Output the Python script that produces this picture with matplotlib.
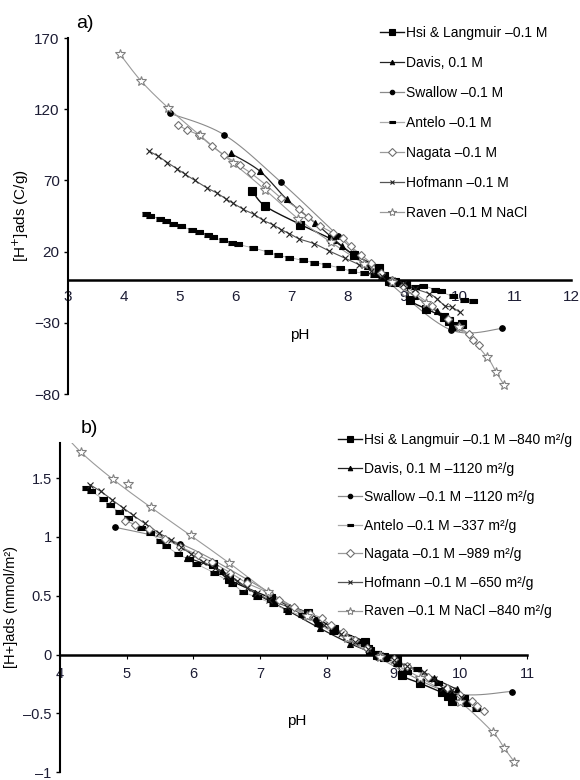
import numpy as np
import matplotlib
matplotlib.use("Agg")
import matplotlib.pyplot as plt
from matplotlib.lines import Line2D

plt.rcParams['font.family'] = ['Liberation Sans', 'DejaVu Sans']

# ---- data, panel a) [H+]ads in C/g ----
hsi_ph = [6.30, 6.53, 7.16, 7.72, 8.11, 8.57, 8.65, 8.75, 8.85, 9.05, 9.12, 9.40, 9.72, 9.82, 9.88, 10.05]
hsi_a = [62.5, 51.9, 39.0, 28.5, 17.9, 8.7, 2.6, -0.5, -1.5, -3.0, -14.0, -20.0, -26.0, -28.5, -32.0, -31.0]
hsi_b = [0.771, 0.640, 0.481, 0.352, 0.221, 0.107, 0.032, -0.006, -0.019, -0.037, -0.173, -0.245, -0.322, -0.352, -0.395, -0.382]

davis_ph = [5.91, 6.43, 6.92, 7.42, 7.90, 8.35, 8.75, 9.20, 9.60, 9.95]
davis_a = [89.0, 76.6, 56.6, 40.2, 24.0, 10.0, 0.0, -11.0, -22.0, -32.0]
davis_b = [0.824, 0.709, 0.524, 0.372, 0.222, 0.093, 0.0, -0.102, -0.204, -0.296]

swallow_ph = [4.83, 5.80, 6.81, 7.83, 8.75, 9.85, 10.77]
swallow_a = [117.0, 101.9, 68.8, 31.3, -2.0, -35.0, -34.0]
swallow_b = [1.083, 0.943, 0.637, 0.290, -0.019, -0.324, -0.315]

antelo_ph = [4.39, 4.47, 4.65, 4.75, 4.88, 5.02, 5.22, 5.35, 5.50, 5.59, 5.77, 5.93, 6.04, 6.31,
             6.58, 6.75, 6.96, 7.20, 7.41, 7.62, 7.86, 8.09, 8.30, 8.48, 8.61, 8.75, 8.90, 9.05,
             9.20, 9.35, 9.57, 9.67, 9.88, 10.09, 10.24]
antelo_a = [46.2, 45.2, 42.9, 41.3, 39.5, 37.7, 35.1, 33.7, 31.4, 30.0, 27.8, 26.3, 25.1, 22.6,
            19.6, 17.3, 15.8, 13.9, 12.2, 10.8, 8.5, 6.1, 4.8, 3.8, 2.0, 0.5, -1.0, -2.5,
            -4.9, -3.9, -6.8, -8.0, -11.5, -13.8, -15.0]
antelo_b = [1.42, 1.39, 1.32, 1.27, 1.215, 1.16, 1.08, 1.037, 0.966, 0.923, 0.855, 0.809, 0.772, 0.695,
            0.603, 0.532, 0.486, 0.428, 0.375, 0.332, 0.262, 0.188, 0.148, 0.117, 0.062, 0.015, -0.031, -0.077,
            -0.151, -0.12, -0.209, -0.246, -0.354, -0.425, -0.462]

nagata_ph = [4.97, 5.13, 5.34, 5.57, 5.80, 6.07, 6.28, 6.55, 6.81, 7.13, 7.29, 7.50, 7.74, 7.92,
             8.06, 8.24, 8.42, 8.60, 8.80, 9.00, 9.20, 9.52, 9.80, 10.00, 10.17, 10.25, 10.36]
nagata_a = [108.7, 105.4, 101.7, 94.2, 87.6, 80.6, 74.9, 66.5, 57.8, 50.1, 44.2, 38.3, 33.2, 29.6,
            23.7, 17.9, 12.0, 5.0, 0.0, -4.0, -9.0, -18.5, -27.0, -33.0, -38.0, -42.0, -45.5]
nagata_b = [1.139, 1.105, 1.066, 0.987, 0.918, 0.845, 0.785, 0.697, 0.606, 0.525, 0.463, 0.401, 0.348, 0.310,
            0.248, 0.188, 0.126, 0.052, 0.0, -0.042, -0.094, -0.194, -0.283, -0.346, -0.398, -0.440, -0.477]

hofmann_ph = [4.45, 4.61, 4.78, 4.95, 5.10, 5.27, 5.48, 5.66, 5.82, 5.96, 6.14, 6.33, 6.49, 6.66,
              6.81, 6.96, 7.14, 7.41, 7.67, 7.95, 8.21, 8.42, 8.62, 8.80, 9.00, 9.20, 9.46, 9.60,
              9.74, 9.87, 10.01]
hofmann_a = [90.6, 87.1, 82.5, 78.2, 74.2, 70.0, 64.9, 61.3, 57.1, 53.8, 49.6, 46.1, 42.0, 39.0,
             35.5, 32.7, 28.9, 25.5, 20.5, 15.5, 10.8, 6.5, 3.0, 0.0, -3.0, -6.0, -9.5, -13.0,
             -18.0, -19.0, -22.7]
hofmann_b = [1.445, 1.389, 1.316, 1.247, 1.183, 1.116, 1.035, 0.978, 0.911, 0.858, 0.791, 0.735, 0.670, 0.622,
             0.566, 0.522, 0.461, 0.407, 0.327, 0.247, 0.172, 0.104, 0.048, 0.0, -0.048, -0.096, -0.152, -0.207,
             -0.287, -0.303, -0.362]

raven_ph = [3.93, 4.31, 4.79, 5.36, 5.96, 6.53, 7.12, 7.70, 8.30, 8.80, 9.40, 10.00, 10.49, 10.66, 10.81]
raven_a = [158.7, 139.7, 121.0, 101.6, 82.1, 63.3, 43.0, 26.7, 11.3, -1.6, -16.0, -33.0, -53.7, -64.7, -74.0]
raven_b = [1.958, 1.724, 1.493, 1.253, 1.013, 0.781, 0.531, 0.329, 0.139, -0.020, -0.197, -0.407, -0.663, -0.798, -0.913]
raven_extra_ph = [5.02]
raven_extra_b = [1.449]

labels_a = ['Hsi & Langmuir \u20130.1 M', 'Davis, 0.1 M', 'Swallow \u20130.1 M', 'Antelo \u20130.1 M',
            'Nagata \u20130.1 M', 'Hofmann \u20130.1 M', 'Raven \u20130.1 M NaCl']
labels_b = ['Hsi & Langmuir \u20130.1 M \u2013840 m\u00b2/g', 'Davis, 0.1 M \u20131120 m\u00b2/g',
            'Swallow \u20130.1 M \u20131120 m\u00b2/g', 'Antelo \u20130.1 M \u2013337 m\u00b2/g',
            'Nagata \u20130.1 M \u2013989 m\u00b2/g', 'Hofmann \u20130.1 M \u2013650 m\u00b2/g',
            'Raven \u20130.1 M NaCl \u2013840 m\u00b2/g']

dash = [(-1.6, -0.6), (1.6, -0.6), (1.6, 0.6), (-1.6, 0.6)]
# line colour, line width, line style, marker, marker size, face, edge
styles = [
    dict(lc='#111111', lw=1.0, ls='-', m='s', ms=5.5, mfc='black', mec='black'),
    dict(lc='#222222', lw=0.9, ls='-', m='^', ms=4, mfc='black', mec='black'),
    dict(lc='#8a8a8a', lw=0.8, ls='-', m='o', ms=4, mfc='black', mec='black'),
    dict(lc='#aaaaaa', lw=0.6, ls='-', m=dash, ms=6, mfc='black', mec='black'),
    dict(lc='#9a9a9a', lw=0.8, ls='-', m='D', ms=4.5, mfc='white', mec='#707070'),
    dict(lc='#555555', lw=0.8, ls='-', m='x', ms=4, mfc='#222222', mec='#222222'),
    dict(lc='#9a9a9a', lw=0.8, ls='-', m='*', ms=7.5, mfc='white', mec='#808080'),
]


def smooth(x, y, n=14):
    # Catmull-Rom, like the smoothed lines of a spreadsheet chart
    x = np.asarray(x, float)
    y = np.asarray(y, float)
    if len(x) < 3:
        return x, y
    px = np.concatenate([[x[0]], x, [x[-1]]])
    py = np.concatenate([[y[0]], y, [y[-1]]])
    t = np.linspace(0, 1, n, endpoint=False)[:, None]
    xs, ys = [], []
    for i in range(1, len(px) - 2):
        for p, out in ((px, xs), (py, ys)):
            p0, p1, p2, p3 = p[i - 1], p[i], p[i + 1], p[i + 2]
            v = 0.5 * (2 * p1 + (-p0 + p2) * t + (2 * p0 - 5 * p1 + 4 * p2 - p3) * t ** 2
                       + (-p0 + 3 * p1 - 3 * p2 + p3) * t ** 3)
            out.extend(v.ravel())
    xs.append(x[-1])
    ys.append(y[-1])
    return np.array(xs), np.array(ys)


def draw_series(ax, series):
    for (xv, yv), st in zip(series, styles):
        sx, sy = smooth(xv, yv)
        ax.plot(sx, sy, color=st['lc'], lw=st['lw'], ls=st['ls'], zorder=2)
        ax.plot(xv, yv, ls='none', marker=st['m'], ms=st['ms'], mfc=st['mfc'],
                mec=st['mec'], mew=0.8, zorder=3)


def handles():
    return [Line2D([], [], color=st['lc'], lw=max(st['lw'], 0.9), marker=st['m'], ms=st['ms'] * 0.8,
                   mfc=st['mfc'], mec=st['mec'], mew=0.8) for st in styles]


def style_axes(ax):
    ax.spines['top'].set_visible(False)
    ax.spines['right'].set_visible(False)
    ax.spines['left'].set_linewidth(1.5)
    ax.spines['bottom'].set_position(('data', 0))
    ax.spines['bottom'].set_linewidth(1.8)
    ax.tick_params(colors='black', labelcolor='#1c1c34')


fig = plt.figure(figsize=(5.8, 7.8), dpi=100)

# panel a
ax1 = fig.add_axes([68 / 580, 1 - 394 / 780, (571 - 68) / 580, (394 - 38) / 780])
draw_series(ax1, [(hsi_ph, hsi_a), (davis_ph, davis_a), (swallow_ph, swallow_a), (antelo_ph, antelo_a),
                  (nagata_ph, nagata_a), (hofmann_ph, hofmann_a), (raven_ph, raven_a)])
ax1.set_xlim(3, 12)
ax1.set_ylim(-80, 170)
ax1.set_xticks(range(3, 13))
ax1.set_yticks([170, 120, 70, 20, -30, -80])
style_axes(ax1)
ax1.tick_params(axis='x', length=0, pad=7, labelsize=11)
ax1.tick_params(axis='y', length=3, width=1, pad=3, labelsize=11)
ax1.set_ylabel('[H$^{+}$]ads (C/g)', fontsize=11, labelpad=2)
fig.text(300 / 580, 1 - 335 / 780, 'pH', ha='center', va='center', fontsize=11)
fig.text(76 / 580, 1 - 23 / 780, 'a)', ha='left', va='center', fontsize=14)
fig.legend(handles(), labels_a, loc='upper left', bbox_to_anchor=(380 / 580, 1 - 26 / 780),
           frameon=False, fontsize=10, handlelength=1.7, handletextpad=0.2, labelspacing=1.15,
           borderpad=0, borderaxespad=0)

# panel b
ax2 = fig.add_axes([60 / 580, 1 - 772 / 780, (527 - 60) / 580, (772 - 443) / 780])
draw_series(ax2, [(hsi_ph, hsi_b), (davis_ph, davis_b), (swallow_ph, swallow_b), (antelo_ph, antelo_b),
                  (nagata_ph, nagata_b), (hofmann_ph, hofmann_b), (raven_ph, raven_b)])
ax2.plot(raven_extra_ph, raven_extra_b, ls='none', marker='*', ms=7.5, mfc='white', mec='#808080', mew=0.8)
ax2.set_xlim(4, 11)
ax2.set_ylim(-1, 1.8)
ax2.set_xticks(range(4, 12))
ax2.set_yticks([-1, -0.5, 0, 0.5, 1, 1.5])
ax2.set_yticklabels(['\u20131', '\u20130.5', '0', '0.5', '1', '1.5'])
style_axes(ax2)
ax2.tick_params(axis='x', length=3, pad=6, labelsize=10.5)
ax2.tick_params(axis='y', length=3, width=1, pad=3, labelsize=10.5)
ax2.set_ylabel('[H+]ads (mmol/m\u00b2)', fontsize=10.5, labelpad=4)
fig.text(297 / 580, 1 - 721 / 780, 'pH', ha='center', va='center', fontsize=11)
fig.text(81 / 580, 1 - 428 / 780, 'b)', ha='left', va='center', fontsize=14)
fig.legend(handles(), labels_b, loc='upper left', bbox_to_anchor=(338 / 580, 1 - 433 / 780),
           frameon=False, fontsize=10, handlelength=1.7, handletextpad=0.2, labelspacing=1.05,
           borderpad=0, borderaxespad=0)

fig.savefig('out.png', dpi=100)
